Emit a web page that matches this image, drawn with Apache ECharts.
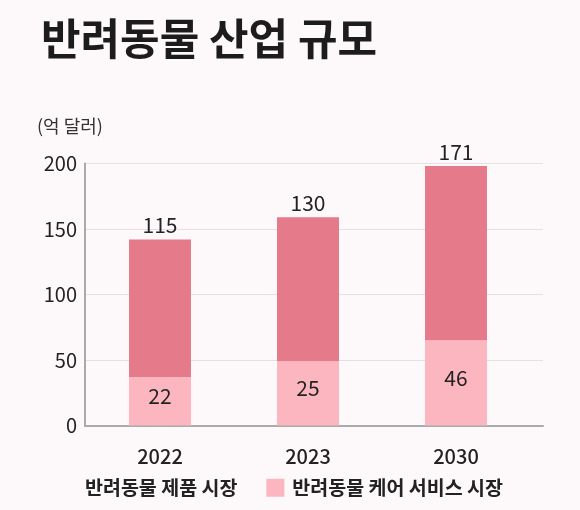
<!DOCTYPE html>
<html>
<head>
<meta charset="utf-8">
<script src="https://cdn.jsdelivr.net/npm/echarts@6/dist/echarts.min.js"></script>
<style>
html,body{margin:0;padding:0;background:#fdf8f9;}
#c{width:580px;height:510px;}
</style>
</head>
<body>
<div id="c"></div>
<script>
var categories = ['2022', '2023', '2030'];
// bar heights as drawn in the picture
var careValues = [37, 49, 65];
var productValues = [105, 110, 133];
// value labels as printed on the picture
var careLabels = ['22', '25', '46'];
var productLabels = ['115', '130', '171'];
var yTicks = [0, 50, 100, 150, 200];

var FONT = "'Noto Sans CJK KR', 'Noto Sans', sans-serif";
var chart = echarts.init(document.getElementById('c'));
chart.setOption({
  backgroundColor: '#fdf8f9',
  textStyle: { fontFamily: FONT },
  title: {
    text: '반려동물 산업 규모',
    left: 36, top: 12,
    textStyle: { fontSize: 43, fontWeight: 'bold', color: '#1c1c1c', fontFamily: FONT }
  },
  graphic: [{
    type: 'text', left: 37, top: 117,
    style: { text: '(억 달러)', fontSize: 18, fill: '#333', fontFamily: FONT }
  }],
  legend: {
    left: 54, top: 473,
    itemWidth: 18, itemHeight: 18, itemGap: 29,
    icon: 'rect',
    textStyle: { fontSize: 19.5, fontWeight: 'bold', color: '#222', fontFamily: FONT, padding: [0, 0, 0, 3] },
    data: [
      { name: '반려동물 제품 시장', itemStyle: { color: 'rgba(0,0,0,0)', opacity: 0 } },
      { name: '반려동물 케어 서비스 시장' }
    ]
  },
  grid: [
    { left: 86, right: 50, top: 163.5, bottom: 84.5 },
    { left: 85, right: 37, top: 163.5, bottom: 84.5 }
  ],
  xAxis: [
    {
      type: 'category', gridIndex: 0, data: categories,
      axisLine: { show: false }, axisTick: { show: false },
      axisLabel: { fontSize: 20, fontWeight: 500, color: '#222', margin: 21, fontFamily: FONT }
    },
    {
      type: 'value', gridIndex: 1, min: 0, max: 1,
      axisLine: { show: true, lineStyle: { color: '#aaaaaa', width: 2 } },
      axisTick: { show: false }, axisLabel: { show: false }, splitLine: { show: false }
    }
  ],
  yAxis: [
    { type: 'value', gridIndex: 0, min: 0, max: 200, interval: 50, show: false },
    {
      type: 'value', gridIndex: 1, min: 0, max: 200, interval: 50,
      axisLine: { show: true, lineStyle: { color: '#aaaaaa', width: 2 } },
      axisTick: { show: false },
      axisLabel: {
        fontSize: 20, color: '#222', margin: 8, fontFamily: FONT,
        formatter: function (v) { return yTicks.indexOf(v) >= 0 ? String(v) : ''; }
      },
      splitLine: { show: true, lineStyle: { color: '#e6e0e2', width: 1 } }
    }
  ],
  series: [
    {
      name: '반려동물 케어 서비스 시장', type: 'bar', stack: 'total',
      xAxisIndex: 0, yAxisIndex: 0, barWidth: 62,
      data: careValues,
      itemStyle: { color: '#fcb6c0' },
      label: {
        show: true, position: 'inside', offset: [0, -5],
        fontSize: 21, color: '#222', fontFamily: FONT,
        formatter: function (p) { return careLabels[p.dataIndex]; }
      }
    },
    {
      name: '반려동물 제품 시장', type: 'bar', stack: 'total',
      xAxisIndex: 0, yAxisIndex: 0, barWidth: 62,
      data: productValues,
      itemStyle: { color: '#e57a8a' },
      label: {
        show: true, position: 'top', distance: 4,
        fontSize: 21, color: '#222', fontFamily: FONT,
        formatter: function (p) { return productLabels[p.dataIndex]; }
      }
    }
  ]
});
</script>
</body>
</html>
